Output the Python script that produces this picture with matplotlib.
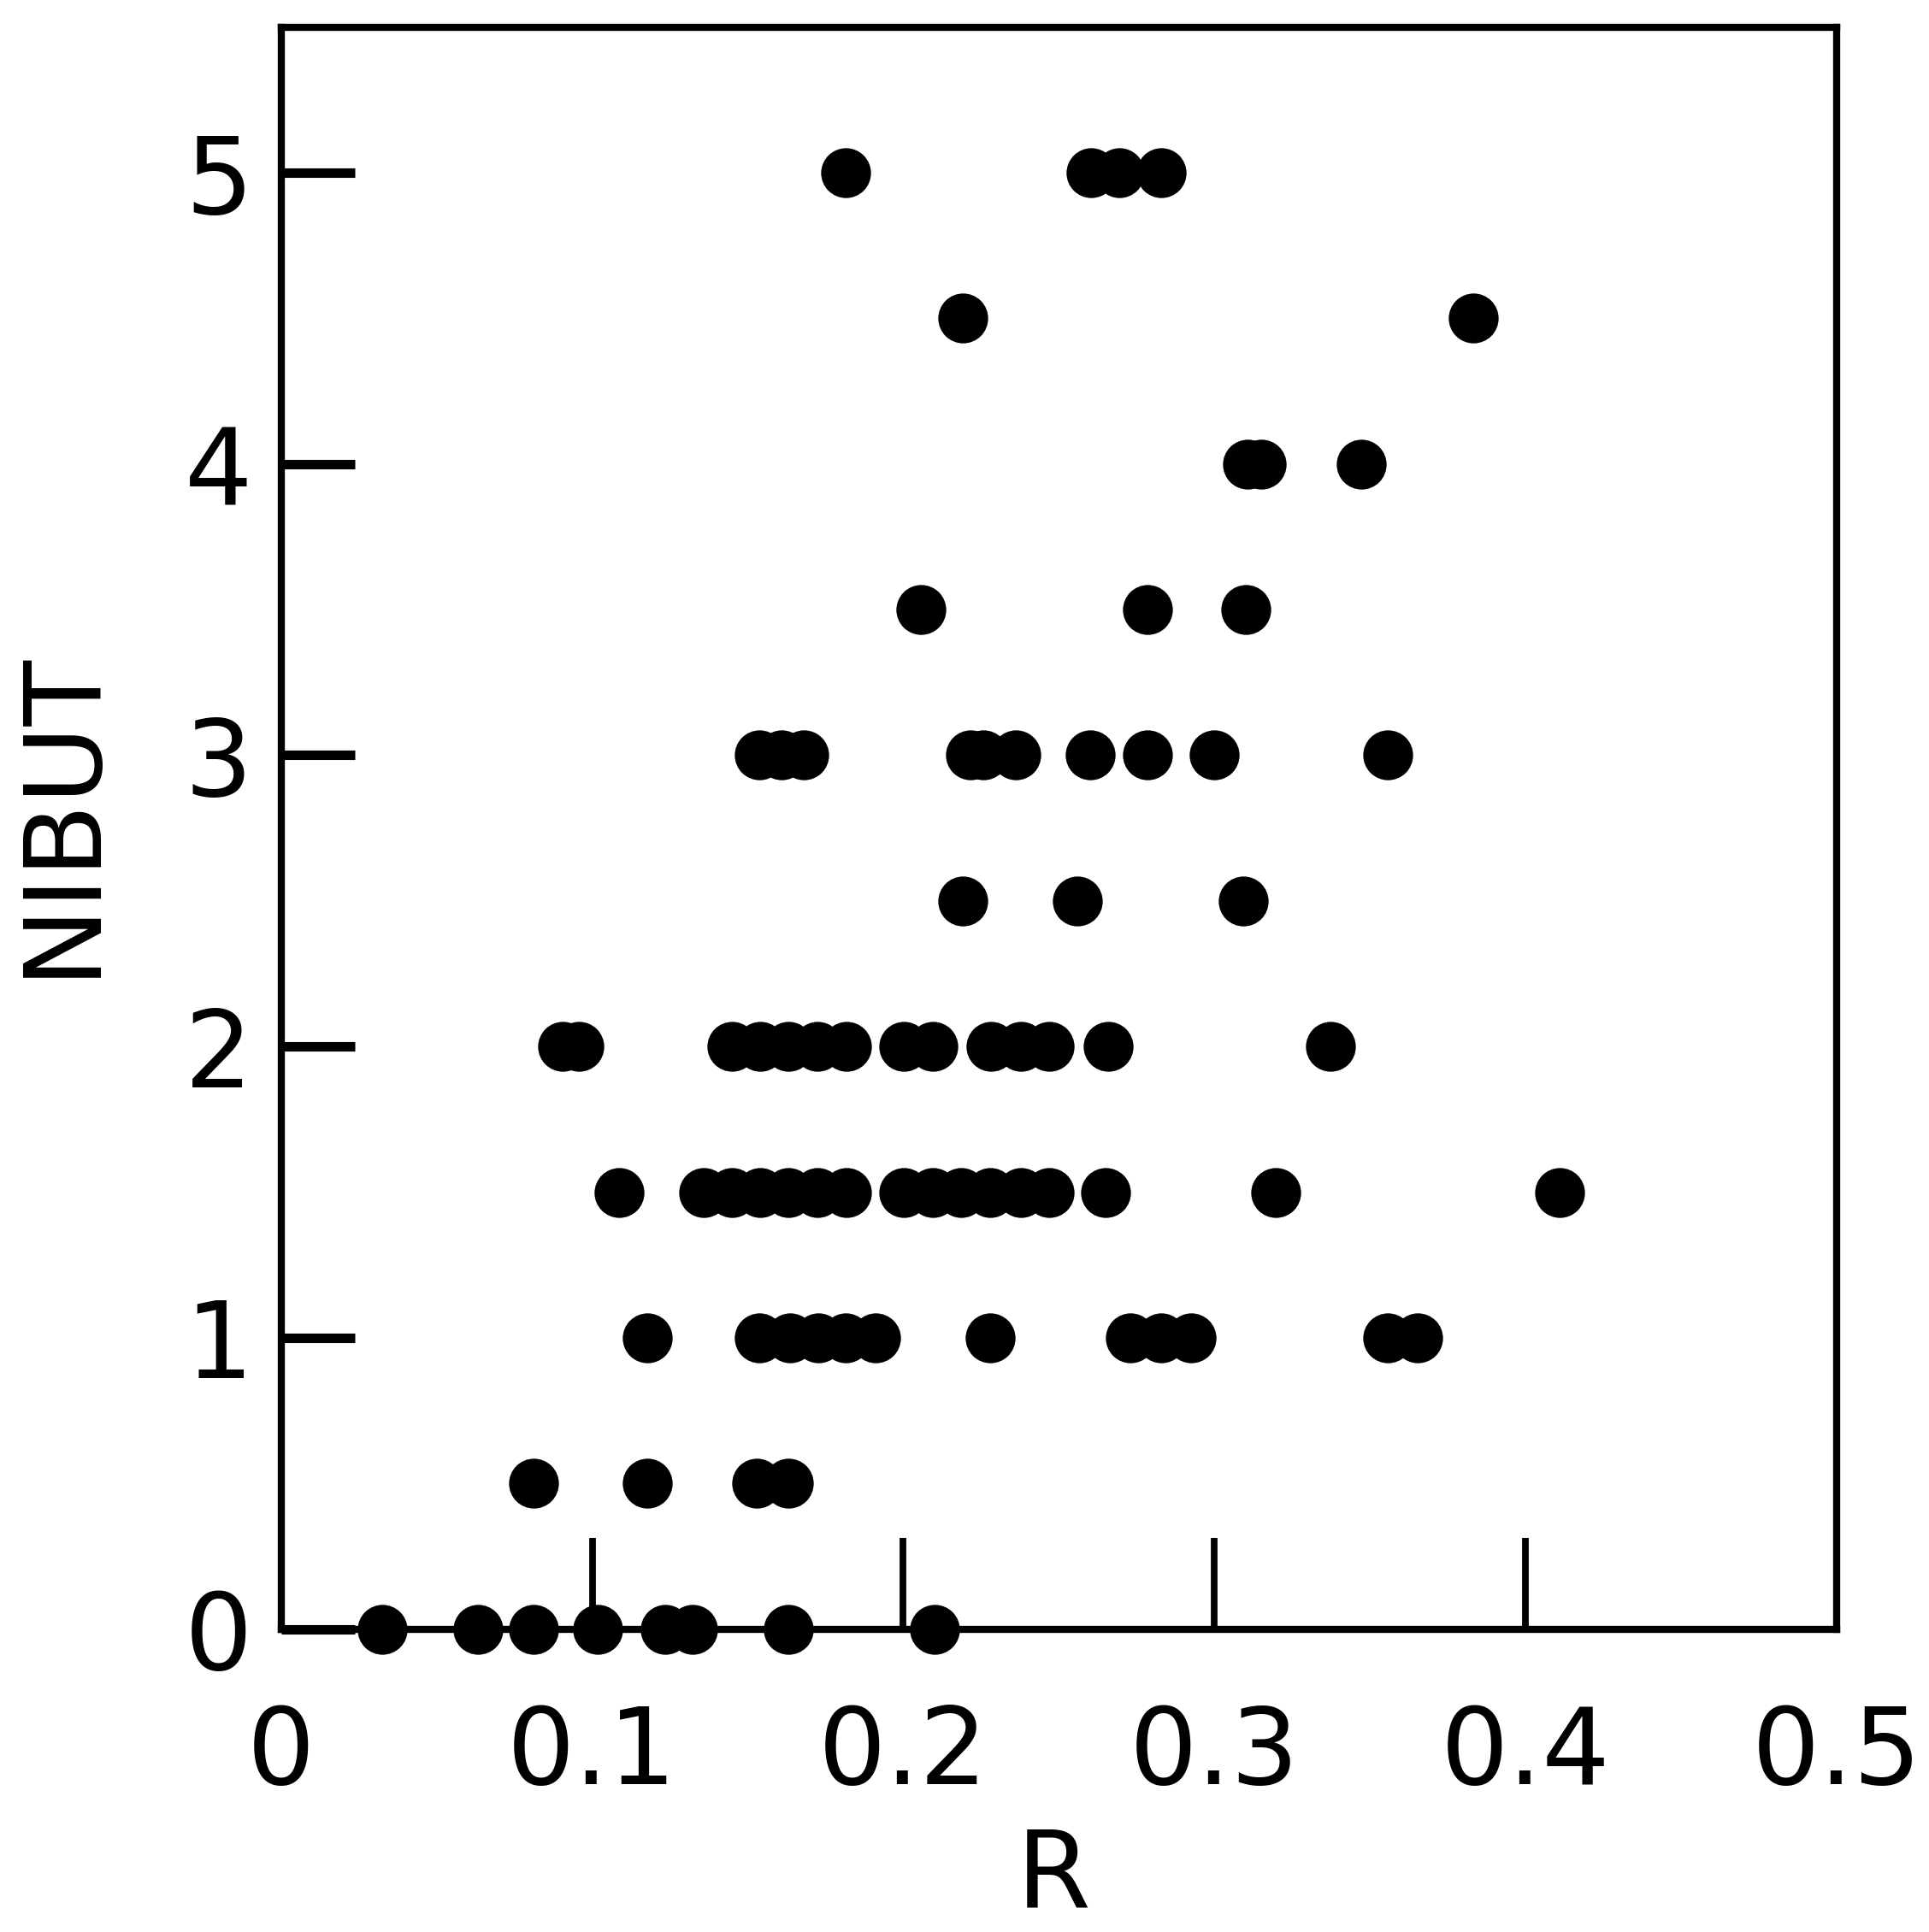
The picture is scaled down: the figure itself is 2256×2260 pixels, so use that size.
import matplotlib
matplotlib.use("Agg")
import matplotlib.pyplot as plt

# NIBUT value for each row of points, with the R values
rows = [0, 0.5, 1, 1.5, 2, 2.5, 3, 3.5, 4, 4.5, 5]
r_values = [
    [0.0325, 0.0634, 0.0812, 0.1018, 0.1236, 0.1323, 0.1632, 0.2100],
    [0.0812, 0.1177, 0.1530, 0.1632],
    [0.1177, 0.1537, 0.1637, 0.1727, 0.1815, 0.1910, 0.2278,
     0.2730, 0.2829, 0.2924, 0.3558, 0.3653],
    [0.1086, 0.1359, 0.1450, 0.1541, 0.1632, 0.1723, 0.1818,
     0.2001, 0.2096, 0.2187, 0.2278, 0.2377, 0.2468, 0.2651,
     0.3197, 0.4109],
    [0.0905, 0.0958, 0.1450, 0.1541, 0.1632, 0.1723, 0.1818,
     0.2001, 0.2096, 0.2282, 0.2377, 0.2468, 0.2658, 0.3372],
    [0.2191, 0.2559, 0.3094],
    [0.1537, 0.1609, 0.1680, 0.2215, 0.2258, 0.2361, 0.2601,
     0.2786, 0.3000, 0.3558],
    [0.2056, 0.2785, 0.3102],
    [0.3106, 0.3150, 0.3471],
    [0.2191, 0.3831],
    [0.1815, 0.2603, 0.2694, 0.2829],
]

x_ticks = [0, 0.1, 0.2, 0.3, 0.4, 0.5]
x_tick_labels = ["0", "0.1", "0.2", "0.3", "0.4", "0.5"]
y_ticks = [0, 1, 2, 3, 4, 5]
y_tick_labels = ["0", "1", "2", "3", "4", "5"]

plt.rcParams['font.family'] = ['DejaVu Sans']

fig = plt.figure(figsize=(11.28, 11.30), dpi=200, facecolor='white')
ax = fig.add_axes([0.1457, 0.1568, 0.8064, 0.8292])

for yv, xs in zip(rows, r_values):
    ax.plot(xs, [yv] * len(xs), linestyle='none', marker='o',
            markersize=21, color='black', markeredgewidth=0,
            clip_on=False, zorder=3)

ax.set_xlim(0, 0.5)
ax.set_ylim(0, 5.5)

for sp in ax.spines.values():
    sp.set_linewidth(3)
    sp.set_color('black')

ax.set_xticks(x_ticks)
ax.set_xticklabels(x_tick_labels)
ax.set_yticks(y_ticks)
ax.set_yticklabels(y_tick_labels)

ax.tick_params(axis='x', direction='in', length=38.5, width=2.8,
               pad=31, labelsize=45, top=False)
ax.tick_params(axis='y', direction='in', length=31, width=4,
               pad=12, labelsize=45, right=False)

fig.text(0.546, 0.028, "R", fontsize=45, ha='center', va='center')
fig.text(0.0319, 0.579, "NIBUT", fontsize=45, ha='center', va='center',
         rotation=90)

fig.savefig("out.png", dpi=200, facecolor='white')
